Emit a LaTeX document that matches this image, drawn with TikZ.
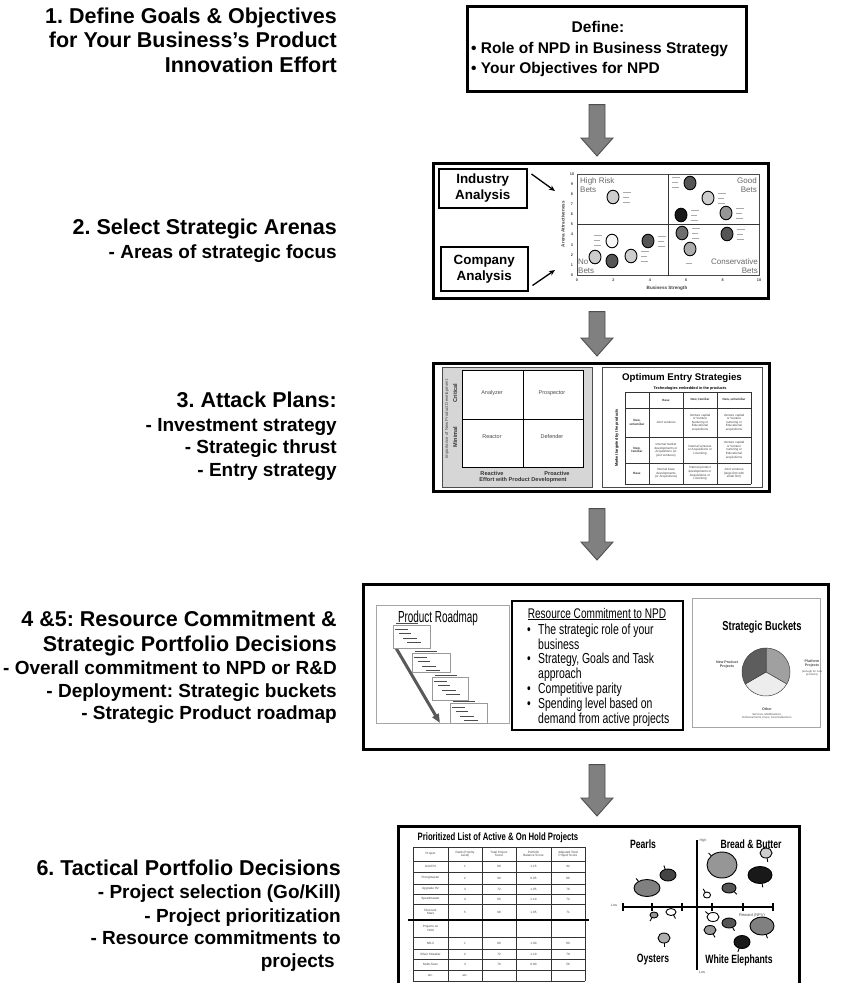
\documentclass[tikz,border=0pt]{standalone}
\usepackage{fontspec}
\setmainfont{Liberation Sans}
\newfontfamily\narrowA[FakeStretch=0.72]{Liberation Sans}
\newfontfamily\narrowB[FakeStretch=0.62]{Liberation Sans}
\usetikzlibrary{calc,arrows.meta}
\frenchspacing
\definecolor{arrfill}{RGB}{128,128,128}
\definecolor{arrline}{RGB}{78,78,78}
\definecolor{panelgray}{RGB}{214,214,214}
\definecolor{chartgray}{RGB}{105,105,105}
\definecolor{stubgray}{RGB}{170,170,170}
\definecolor{bwhite}{RGB}{246,246,246}
\definecolor{blight}{RGB}{205,205,205}
\definecolor{bmid}{RGB}{150,150,150}
\definecolor{bdark}{RGB}{85,85,85}
\definecolor{bblack}{RGB}{25,25,25}
\newcommand{\blockarrow}[2]{%
  \draw[bigarr] let \p1=(#1), \p2=(#2) in
  (\x1-8pt,\y1) -- (\x1+8pt,\y1) -- (\x1+8pt,\y2+18pt) -- (\x1+16pt,\y2+18pt)
  -- (\x1,\y2) -- (\x1-16pt,\y2+18pt) -- (\x1-8pt,\y2+18pt) -- cycle;}
\begin{document}
\frenchspacing
\begin{tikzpicture}[x=1pt,y=-1pt,
  ttl/.style={font=\fontsize{21.5}{24}\selectfont\bfseries, anchor=base east, inner sep=0pt},
  sub/.style={font=\fontsize{19}{22}\selectfont\bfseries, anchor=base east, inner sep=0pt},
  sz/.style 2 args={minimum width=#1pt, minimum height=#2pt},
  mainbox/.style={draw=black, line width=2.6pt, fill=white, inner sep=0pt, anchor=north west},
  subbox/.style={draw=black, line width=1.5pt, fill=white, inner sep=0pt, anchor=north west},
  thinpanel/.style={draw=gray!70, line width=0.7pt, fill=white, inner sep=0pt, anchor=north west},
  bigarr/.style={fill=arrfill, draw=arrline, line width=0.9pt, line join=miter},
  boxtxt/.style={font=\fontsize{15.5}{18}\selectfont\bfseries, inner sep=0pt},
  anbox/.style={font=\fontsize{13.4}{16}\selectfont\bfseries, align=center, inner sep=0pt},
  bubble/.style={draw=black, line width=0.9pt},
  stub/.style={draw=stubgray, line width=0.7pt},
  axlab/.style={font=\fontsize{3.8}{4}\selectfont\bfseries, inner sep=0pt, text=chartgray!60!black},
  qlab/.style={font=\fontsize{8}{9}\selectfont, text=chartgray, inner sep=0pt},
  qd/.style={font=\fontsize{5.5}{6}\selectfont, text=chartgray!70!black, inner sep=0pt},
  qdb/.style={font=\fontsize{5.6}{6}\selectfont\bfseries, text=black!80, inner sep=0pt},
  cell/.style={font=\fontsize{3.1}{3.6}\selectfont, align=center, text=black!75, inner sep=0pt},
  cellb/.style={font=\fontsize{3.1}{3.6}\selectfont\bfseries, align=center, text=black!80, inner sep=0pt},
  tbl/.style={draw=black!80, line width=0.6pt},
  rmbox/.style={draw=gray!80, line width=0.5pt},
  rmtxt/.style={draw=gray!60!black, line width=0.6pt},
  narrow/.style={font={\narrowA\fontsize{14.5}{16}\selectfont}, inner sep=0pt},
  quadb/.style={font={\narrowA\fontsize{12}{14}\selectfont\bfseries}, inner sep=0pt},
  tinyt/.style={font=\fontsize{3.4}{3.8}\selectfont, text=black!70, inner sep=0pt, align=center}
]
\useasboundingbox (0,0) rectangle (843,983);
\fill[white] (0,0) rectangle (843,983);
\coordinate (ax) at (597,0);

% ---------------- left titles ----------------
\node[ttl] (t1a) at (337,23) {1. Define Goals \& Objectives};
\node[ttl] (t1b) at (337,47) {for Your Business’s Product};
\node[ttl] (t1c) at (337,72) {Innovation Effort};
\node[ttl] (t2a) at (337,234) {2. Select Strategic Arenas};
\node[sub] (t2b) at (337,258) {- Areas of strategic focus};
\node[ttl] (t3a) at (337,407) {3. Attack Plans:};
\node[sub] (t3b) at (337,431) {- Investment strategy};
\node[sub] (t3c) at (337,453) {- Strategic thrust};
\node[sub] (t3d) at (337,476) {- Entry strategy};
\node[ttl] (t4a) at (337,626) {4 \&5: Resource Commitment \&};
\node[ttl] (t4b) at (337,651) {Strategic Portfolio Decisions};
\node[sub] (t4c) at (337,674) {- Overall commitment to NPD or R\&D};
\node[sub] (t4d) at (337,697) {- Deployment: Strategic buckets};
\node[sub] (t4e) at (337,719) {- Strategic Product roadmap};
\node[ttl] (t6a) at (341,875) {6. Tactical Portfolio Decisions};
\node[sub] (t6b) at (341,898) {- Project selection (Go/Kill)};
\node[sub] (t6c) at (341,922) {- Project prioritization};
\node[sub] (t6d) at (341,944) {- Resource commitments to};
\node[sub] (t6e) at (335,967) {projects};

% ---------------- box 1 ----------------
\node[mainbox, sz={279}{85}] (b1) at (466,5) {};
\node[boxtxt, anchor=base] (b1t) at (598,32) {Define:};
\node[boxtxt, anchor=base west] (b1a) at (471,53) {• Role of NPD in Business Strategy};
\node[boxtxt, anchor=base west] (b1b) at (471,73) {• Your Objectives for NPD};

% ---------------- box 2 ----------------
\node[mainbox, sz={335}{135}] (b2) at (432,162) {};
\node[subbox, sz={88}{39}] (ind) at (438,168) {};
\node[anbox] (indt) at (ind.center) {Industry\\Analysis};
\node[subbox, sz={87}{44}] (comp) at (440,246) {};
\node[anbox] (compt) at (comp.center) {Company\\Analysis};
\coordinate (ia) at (555,191);
\coordinate (ca) at (555,270);
\draw[-{Stealth[length=6pt,width=5pt]}, line width=1.3pt] ($(ind.north east)+(4,6)$) -- (ia);
\draw[-{Stealth[length=6pt,width=5pt]}, line width=1.3pt] ($(comp.south east)+(4,-6)$) -- (ca);

\node[anchor=north west, sz={182}{101}, draw=chartgray!70!black, line width=0.8pt, inner sep=0pt] (plot) at (577,174) {};
\draw[line width=1pt, chartgray!50!black] (plot.north) -- (plot.south);
\draw[line width=1pt, chartgray!50!black] (plot.west) -- (plot.east);
\foreach \i in {0,2,...,10} \node[axlab] at ({577+\i*18.2},280) {\i};
\foreach \i in {0,...,10} \node[axlab] at (572,{275-\i*10.1}) {\i};
\node[axlab, rotate=90, font=\fontsize{4.6}{5}\selectfont\bfseries] (yl) at (563,224) {Arena Attractiveness};
\node[axlab, font=\fontsize{4.6}{5}\selectfont\bfseries] (xl) at (667,288) {Business Strength};
\node[qlab, anchor=north west, align=left] (q1) at (580,177) {High Risk\\Bets};
\node[qlab, anchor=north east, align=right] (q2) at (757,177) {Good\\Bets};
\node[qlab, anchor=south west, align=left] (q3) at (578,274) {No\\Bets};
\node[qlab, anchor=south east, align=right] (q4) at (758,274) {Conservative\\Bets};
% label stubs
\foreach \x/\y in {613/197, 708/198, 681/215, 726/213, 682/233, 727/234, 648/241, 631/256} {
  \draw[stub] ({\x+10},{\y-5}) -- ++(8,0);
  \draw[stub] ({\x+10},{\y}) -- ++(6,0);
  \draw[stub] ({\x+10},{\y+5}) -- ++(7,0);
}
\foreach \x/\y in {690/183, 612/241} {
  \draw[stub] ({\x-18},{\y-6}) -- ++(8,0);
  \draw[stub] ({\x-18},{\y-1}) -- ++(6,0);
  \draw[stub] ({\x-18},{\y+4}) -- ++(7,0);
}
\draw[stub] (686,263) -- ++(6,0);
\foreach \x/\y/\c in {613/197/blight, 690/183/bdark, 708/198/blight, 681/215/bblack,
  726/213/bmid, 682/233/bdark!85, 727/234/bdark, 690/249/bmid!80, 612/241/bwhite,
  648/241/bdark, 595/257/blight, 612/261/bdark, 631/256/blight}
  \draw[bubble, fill=\c] (\x,\y) ellipse [x radius=6pt, y radius=6.8pt];

% ---------------- box 3 ----------------
\node[mainbox, sz={336}{128}] (b3) at (432,362) {};
\node[anchor=north west, sz={150}{120}, fill=panelgray, draw=gray!60!black, line width=0.8pt, inner sep=0pt] (p3l) at (442,367) {};
\node[anchor=north west, sz={121}{97}, fill=white, draw=black, line width=1.1pt, inner sep=0pt] (grid) at (462,370) {};
\draw[line width=1.1pt] (grid.north) -- (grid.south);
\draw[line width=1.1pt] (grid.west) -- (grid.east);
\node[qd] (an) at (492,393) {Analyzer};
\node[qd] (pr) at (552,393) {Prospector};
\node[qd] (re) at (492,437) {Reactor};
\node[qd] (de) at (552,437) {Defender};
\node[qdb] (rea) at (492,473) {Reactive};
\node[qdb] (pro) at (557,473) {Proactive};
\node[qdb] (eff) at (523,480) {Effort with Product Development};
\node[qdb, rotate=90] (cr) at (455,393) {Critical};
\node[qdb, rotate=90] (mi) at (455,437) {Minimal};
\node[qd, rotate=90, font=\fontsize{4.3}{5}\selectfont] (imp) at (447,419) {Importance of New Product Development};

\node[anchor=north west, sz={160}{120}, fill=white, draw=gray!60!black, line width=0.8pt, inner sep=0pt] (p3r) at (602,367) {};
\node[font=\fontsize{9.7}{10}\selectfont\bfseries, inner sep=0pt] (oes) at (682,378) {Optimum Entry Strategies};
\node[font=\fontsize{3.8}{4}\selectfont\bfseries, inner sep=0pt] (tee) at (690,389) {Technologies embedded in the products};
\node[font=\fontsize{3.8}{4}\selectfont\bfseries, inner sep=0pt, rotate=90] (mtp) at (617,438) {Market targeted by the products};
\foreach \xx in {625,649,683,717,751} \draw[tbl] (\xx,392) -- (\xx,484);
\foreach \yy in {392,408,437,463,484} \draw[tbl] (625,\yy) -- (751,\yy);
\node[cellb] at (666,400) {Base};
\node[cellb] at (700,400) {New, familiar};
\node[cellb] at (734,400) {New, unfamiliar};
\node[cellb] at (637,422.5) {New,\\unfamiliar};
\node[cellb] at (637,450) {New,\\familiar};
\node[cellb] at (637,473.5) {Base};
\node[cell] at (666,422.5) {Joint ventures};
\node[cell] at (700,422.5) {Venture capital\\or Venture\\Nurturing or\\Educational\\acquisitions};
\node[cell] at (734,422.5) {Venture capital\\or Venture\\nurturing or\\Educational\\acquisitions};
\node[cell] at (666,450) {Internal market\\developments or\\Acquisitions (or\\joint ventures)};
\node[cell] at (700,450) {Internal ventures\\or Acquisitions or\\Licensing};
\node[cell] at (734,450) {Venture capital\\or Venture\\nurturing or\\Educational\\acquisitions};
\node[cell] at (666,473.5) {Internal base\\developments\\(or Acquisitions)};
\node[cell] at (700,473.5) {Internal product\\developments or\\Acquisitions or\\Licensing};
\node[cell] at (734,473.5) {Joint ventures\\(large firm with\\small firm)};

% ---------------- box 4 ----------------
\node[mainbox, sz={465}{165}] (b4) at (362,583) {};
\node[thinpanel, sz={133}{118}] (rm) at (376,605) {};
\node[font={\narrowB\fontsize{16}{18}\selectfont}, inner sep=0pt] (rmt) at (438,618) {Product Roadmap};
\coordinate (rms) at (396,648);
\coordinate (rme) at (440,723);
\draw[line width=3pt, draw=gray!70!black, -{Triangle[length=9pt,width=7pt]}] (rms) -- (rme);
\foreach \a/\b/\c/\d in {393/625/430/648, 412/653/450/672, 432/677/468/700, 450/703/487/723} {
  \draw[rmbox, fill=white] (\a,\b) rectangle (\c,\d);
  \draw[rmtxt] ({\a+3},{\b-2}) -- ++(22,0);
  \draw[rmtxt, line width=0.9pt] ({\a+2},{\b+4}) -- ++(13,0);
  \draw[rmtxt] ({\a+6},{\b+8.5}) -- ++(12,0);
  \draw[rmtxt] ({\a+10},{\b+13}) -- ++(14,0);
  \draw[rmtxt] ({\a+14},{\b+17.5}) -- ++(14,0);
}
\node[subbox, sz={171}{129}, line width=1.6pt] (rc) at (511,600) {};
\node[narrow, anchor=base, font={\narrowA\fontsize{14}{16}\selectfont}] (rct) at (597,618) {\underline{Resource Commitment to NPD}};
\node[narrow, anchor=base] (bu1) at (529,634) {•};
\node[narrow, anchor=base west] (l1) at (538,634) {The strategic role of your};
\node[narrow, anchor=base west] (l2) at (538,649) {business};
\node[narrow, anchor=base] (bu2) at (529,663) {•};
\node[narrow, anchor=base west] (l3) at (538,663) {Strategy, Goals and Task};
\node[narrow, anchor=base west] (l4) at (538,678) {approach};
\node[narrow, anchor=base] (bu3) at (529,693) {•};
\node[narrow, anchor=base west] (l5) at (538,693) {Competitive parity};
\node[narrow, anchor=base] (bu4) at (529,708) {•};
\node[narrow, anchor=base west] (l6) at (538,708) {Spending level based on};
\node[narrow, anchor=base west] (l7) at (538,723) {demand from active projects};

\node[thinpanel, sz={128}{129}] (sb) at (692,598) {};
\node[font={\narrowA\fontsize{13}{15}\selectfont\bfseries}, inner sep=0pt] (sbt) at (762,627) {Strategic Buckets};
\coordinate (pc) at (766,672);
\filldraw[fill=bmid!90, draw=gray!50!black, line width=0.5pt] (pc) -- ++(90:24pt) arc[start angle=90, end angle=-30, radius=24pt] -- cycle;
\filldraw[fill=black!7, draw=gray!50!black, line width=0.5pt] (pc) -- ++(-30:24pt) arc[start angle=-30, end angle=-150, radius=24pt] -- cycle;
\filldraw[fill=bdark!95, draw=gray!50!black, line width=0.5pt] (pc) -- ++(210:24pt) arc[start angle=210, end angle=90, radius=24pt] -- cycle;
\node[tinyt, font=\fontsize{3.6}{4}\selectfont\bfseries] (npp) at (727,665) {New Product\\Projects};
\node[tinyt, font=\fontsize{3.6}{4}\selectfont\bfseries] (plp) at (812,664) {Platform\\Projects};
\node[tinyt, font=\fontsize{2.8}{3.2}\selectfont] (plq) at (812,673) {(enough for new\\products)};
\node[tinyt, font=\fontsize{3.6}{4}\selectfont\bfseries] (oth) at (767,709) {Other};
\node[tinyt, font=\fontsize{2.8}{3.2}\selectfont] (oth2) at (767,716) {Services, Modifications,\\Enhancements, Fixes, Cost Reductions};

% ---------------- box 6 ----------------
\node[mainbox, sz={401}{200}] (b6) at (397,825) {};
\node[font={\narrowA\fontsize{10.7}{12}\selectfont\bfseries}, inner sep=0pt] (plt) at (498,838) {Prioritized List of Active \& On Hold Projects};
\foreach \xx in {413,448,482,516,551,585} \draw[tbl] (\xx,847) -- (\xx,981);
\foreach \yy in {847,861,872,884,894,904,937,949,959,970,981} \draw[tbl] (413,\yy) -- (585,\yy);
\draw[line width=1.6pt] (408,920) -- (589,920);
\foreach \yy/\ca/\cb/\cc/\cd/\ce in {
  854/Project/Rank (Priority\\Level)/Total Project\\Score/Portfolio\\Balance Score/Adjusted Total\\Project Score,
  866.5/Gold Rt/1/80/1.15/92,
  878/Prongmaster/2/90/0.95/86,
  889/Upgrade H2/3/72/1.05/76,
  899/Speedmaster/4/65/1.10/72,
  912/Discount\\Stars/5/68/1.05/71,
  928.5/Projects on\\Hold/{}/{}/{}/{},
  943/NR-II/1/80/1.00/80,
  954/Silver Streaker/2/72/1.10/79,
  964.5/Multi-Scan/3/70/0.80/56,
  975.5/etc./etc./{}/{}/{}} {
  \node[cell] at (430.5,\yy) {\ca};
  \node[cell] at (465,\yy) {\cb};
  \node[cell] at (499,\yy) {\cc};
  \node[cell] at (533.5,\yy) {\cd};
  \node[cell] at (568,\yy) {\ce};
}
\coordinate (vt) at (697,840);
\coordinate (vb) at (697,970);
\coordinate (hl) at (623,907);
\coordinate (hr) at (774,907);
\draw[line width=1.3pt] (vt) -- (vb);
\draw[line width=1.3pt] (hl) -- (hr);
\foreach \xx in {623,652,682,712,743,773} \draw[line width=1.3pt] (\xx,903) -- (\xx,911);
\node[quadb] (pea) at (643,844) {Pearls};
\node[quadb] (bab) at (751,844) {Bread \& Butter};
\node[quadb] (oys) at (653,960) {Oysters};
\node[quadb] (whe) at (739,960) {White Elephants};
\node[tinyt] (hi) at (703,841) {High};
\node[tinyt] (lo) at (702,972) {Low};
\node[tinyt, font=\fontsize{4}{4.5}\selectfont] (npv) at (752,915) {Reward (NPV)};
\node[tinyt] (lo2) at (614,905) {Low};
\foreach \x/\y/\rx/\ry/\c/\a in {
  722/865/15/13/bmid/135, 766/853/6/5/blight/-80, 760/875/12/8.5/bblack/-80,
  729/888/7/5/bdark/-45, 707/895/3.5/3/white/120, 668/875/8/6/bdark!80!black/110,
  647/888/13/8.5/bmid!85!black/130, 671/912/5/3.5/white/-60, 654/915/4/3/bmid/-120,
  664/938/6/5/blight!85!black/-90, 713/917/6/4.5/white/140, 729/923/7/5/bdark/-60,
  710/930/6/4.5/bmid/-60, 762/926/12/9/bmid!85!black/-70, 742/942/8/6.5/bblack/-110} {
  \draw[bubble] ($(\x,\y)+(\a:\rx pt and \ry pt)$) -- ++(\a:4pt);
  \draw[bubble, fill=\c] (\x,\y) ellipse [x radius=\rx pt, y radius=\ry pt];
}

% ---------------- block arrows ----------------
\blockarrow{$(ax |- b1.south)+(0,12)$}{$(ax |- b2.north)+(0,-6)$}
\blockarrow{$(ax |- b2.south)+(0,12)$}{$(ax |- b3.north)+(0,-6)$}
\blockarrow{$(ax |- b3.south)+(0,16)$}{$(ax |- b4.north)+(0,-23)$}
\blockarrow{$(ax |- b4.south)+(0,14)$}{$(ax |- b6.north)+(0,-9)$}
\end{tikzpicture}
\end{document}
